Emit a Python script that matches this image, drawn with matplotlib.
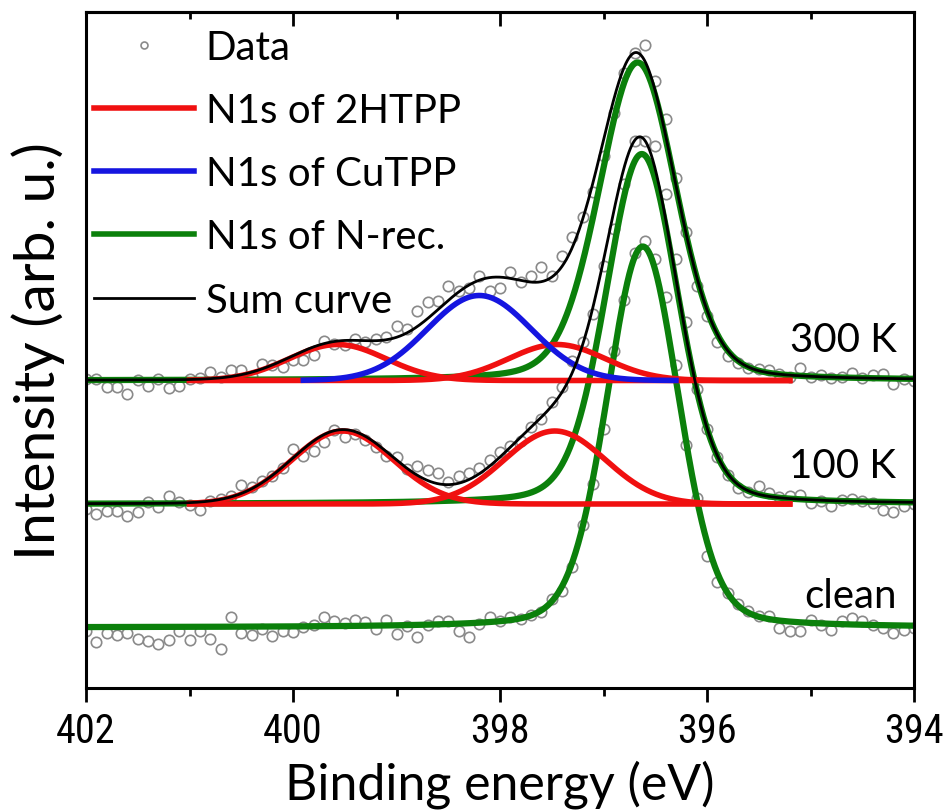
import numpy as np
import matplotlib.pyplot as plt
from matplotlib import font_manager
from matplotlib.font_manager import FontProperties
from matplotlib.lines import Line2D
from matplotlib.ticker import MultipleLocator

# measured points, 402.0 -> 394.0 eV in 0.1 eV steps
energy = np.round(np.linspace(402.0, 394.0, 81), 2)

clean_data = [-3, -14, -5, -7, -5, -11, -13, -16, -12, -3,
              -12, -3, -11, -21, 11, -5, -7, -1, -8, -3,
              -4, 1, 3, 11, 7, 5, 8, 6, -1, 8,
              -6, 2, -9, 3, 7, 7, -3, -9, 4, 11,
              7, 11, 9, 13, 16, 29, 37, 61, 103, 144,
              199, 277, 328, 375, 387, 369, 331, 263, 183, 130,
              72, 46, 35, 24, 17, 12, 12, 0, -3, -3,
              8, 3, -2, 7, 10, 7, 3, 0, -5, -2, 0]

k100_data = [-5, -10, -7, -7, -12, -8, 2, -3, 8, 2,
             -1, -6, 3, 5, 8, 19, 17, 23, 28, 36,
             55, 48, 53, 62, 74, 67, 70, 64, 57, 48,
             47, 35, 38, 34, 31, 22, 28, 31, 36, 44,
             52, 58, 63, 77, 85, 102, 117, 143, 162, 190,
             238, 275, 320, 363, 363, 358, 310, 245, 182, 115,
             75, 47, 29, 16, 12, 18, 11, 7, 8, 9,
             1, 3, -2, 4, 5, 3, 1, -6, -8, -2, 0]

k300_data = [2, 2, -6, -6, -13, 1, -5, 2, -7, -5,
             2, 3, 9, 4, 11, 11, 5, 17, 16, 14,
             21, 21, 26, 40, 37, 36, 42, 39, 42, 44,
             55, 52, 70, 79, 80, 95, 90, 93, 105, 90,
             93, 109, 99, 105, 114, 105, 125, 144, 164, 189,
             225, 268, 308, 328, 336, 300, 262, 203, 149, 95,
             65, 39, 25, 18, 13, 12, 11, 7, 4, 13,
             4, 6, 3, 4, 8, 3, 6, 7, -3, 2, 0]

# vertical offsets of the spectra
offset_clean = 0
offset_100 = 123.5
offset_300 = 247

# fitted components
# N-rec (green): centre, height, fwhm, lorentz fraction
nrec_clean = (396.62, 381, 0.82, 0.2)
nrec_100 = (396.63, 350, 0.82, 0.2)
nrec_300 = (396.67, 318, 0.88, 0.2)
# 2HTPP (red) two gaussians: centre, height, fwhm
htpp_100 = [(399.52, 73, 1.15), (397.47, 73, 1.15)]
htpp_300 = [(399.57, 36, 1.10), (397.45, 36, 1.10)]
# CuTPP (blue)
cutpp_300 = (398.20, 85, 1.18)

red_range = (401.0, 395.2)
blue_range = (399.9, 396.3)


def gauss(x, c, h, w):
    return h * np.exp(-4 * np.log(2) * (x - c) ** 2 / w ** 2)


def pvoigt(x, c, h, w, eta):
    lor = 1 / (1 + 4 * (x - c) ** 2 / w ** 2)
    return h * ((1 - eta) * gauss(x, c, 1, w) + eta * lor)


# narrow font for the tick numbers if there is one
def narrow_font(size):
    fl = font_manager.fontManager.ttflist
    for want in ['Liberation Sans Narrow', 'DejaVu Sans Condensed', 'Roboto Condensed',
                 'Open Sans Condensed', 'Noto Sans Condensed']:
        for f in fl:
            if f.name == want and f.style == 'normal' and f.weight in (400, 'normal', 'regular'):
                return FontProperties(fname=f.fname, size=size)
    for f in fl:
        if f.stretch in ('condensed', 'semi-condensed', 'extra-condensed') and f.style == 'normal' \
                and f.weight in (400, 'normal', 'regular'):
            return FontProperties(fname=f.fname, size=size)
    return FontProperties(family='Liberation Sans', size=size - 4)


txt_font = ['Lato', 'DejaVu Sans']
num_prop = narrow_font(29)

GREEN = '#0b800b'
RED = '#f01010'
BLUE = '#1515e0'
GREY = '#8a8a8a'

fig = plt.figure(figsize=(9.47, 8.12), dpi=100)
ax = fig.add_axes([86 / 947, 1 - 689 / 812, 828 / 947, 676 / 812])

xf = np.linspace(402, 394, 1601)

# data points
for d, off in [(clean_data, offset_clean), (k100_data, offset_100), (k300_data, offset_300)]:
    ax.plot(energy, np.array(d) + off, 'o', mfc='none', mec=GREY, ms=7.5, mew=1.2, zorder=1)

# clean
g = pvoigt(xf, *nrec_clean)
ax.plot(xf, g + offset_clean, color=GREEN, lw=4.5, zorder=2)

# 100 K and 300 K
for off, nrec, reds, blue in [(offset_100, nrec_100, htpp_100, None),
                              (offset_300, nrec_300, htpp_300, cutpp_300)]:
    g = pvoigt(xf, *nrec)
    total = g.copy()
    ax.plot(xf, g + off, color=GREEN, lw=4.5, zorder=2)
    m = (xf <= red_range[0]) & (xf >= red_range[1])
    for r in reds:
        rv = gauss(xf, *r)
        total += rv
        ax.plot(xf[m], rv[m] + off, color=RED, lw=4, zorder=3)
    if blue is not None:
        bv = gauss(xf, *blue)
        total += bv
        mb = (xf <= blue_range[0]) & (xf >= blue_range[1])
        ax.plot(xf[mb], bv[mb] + off, color=BLUE, lw=4, zorder=4)
    ax.plot(xf, total + off, color='black', lw=2, zorder=5)

# spectrum labels
for lab, y in [('300 K', offset_300 + 29), ('100 K', offset_100 + 27), ('clean', offset_clean + 20)]:
    ax.text(394.17, y, lab, ha='right', va='baseline', fontsize=29, family=txt_font)

ax.set_xlim(402, 394)
ax.set_ylim(-60.5, 615.5)
ax.xaxis.set_major_locator(MultipleLocator(2))
ax.xaxis.set_minor_locator(MultipleLocator(1))
ax.set_yticks([])
ax.tick_params(axis='x', which='both', direction='out', top=False, width=2, pad=6.5)
ax.tick_params(axis='x', which='major', length=10)
ax.tick_params(axis='x', which='minor', length=6)
for lbl in ax.get_xticklabels():
    lbl.set_fontproperties(num_prop)
for s in ax.spines.values():
    s.set_linewidth(2.2)

# inward ticks on the top edge
top = ax.secondary_xaxis('top')
top.xaxis.set_major_locator(MultipleLocator(2))
top.xaxis.set_minor_locator(MultipleLocator(1))
top.tick_params(which='both', direction='in', width=2, labeltop=False)
top.tick_params(which='major', length=10)
top.tick_params(which='minor', length=5)
top.spines['top'].set_linewidth(2.2)

ax.set_xlabel('Binding energy (eV)', fontsize=36, family=txt_font, labelpad=7)
ax.set_ylabel('Intensity (arb. u.)', fontsize=41, family=txt_font, labelpad=15)

handles = [Line2D([], [], ls='none', marker='o', mfc='none', mec=GREY, ms=5, mew=1.2),
           Line2D([], [], color=RED, lw=4),
           Line2D([], [], color=BLUE, lw=4),
           Line2D([], [], color=GREEN, lw=4),
           Line2D([], [], color='black', lw=2)]
labels = ['Data', 'N1s of 2HTPP', 'N1s of CuTPP', 'N1s of N-rec.', 'Sum curve']
ax.legend(handles, labels, loc='upper left', bbox_to_anchor=(-0.011, 1.0), frameon=False,
          prop={'family': txt_font, 'size': 29}, handlelength=2.48, handletextpad=0.3,
          labelspacing=0.65, borderaxespad=0, borderpad=0.42)

fig.savefig('out.png', dpi=100)
